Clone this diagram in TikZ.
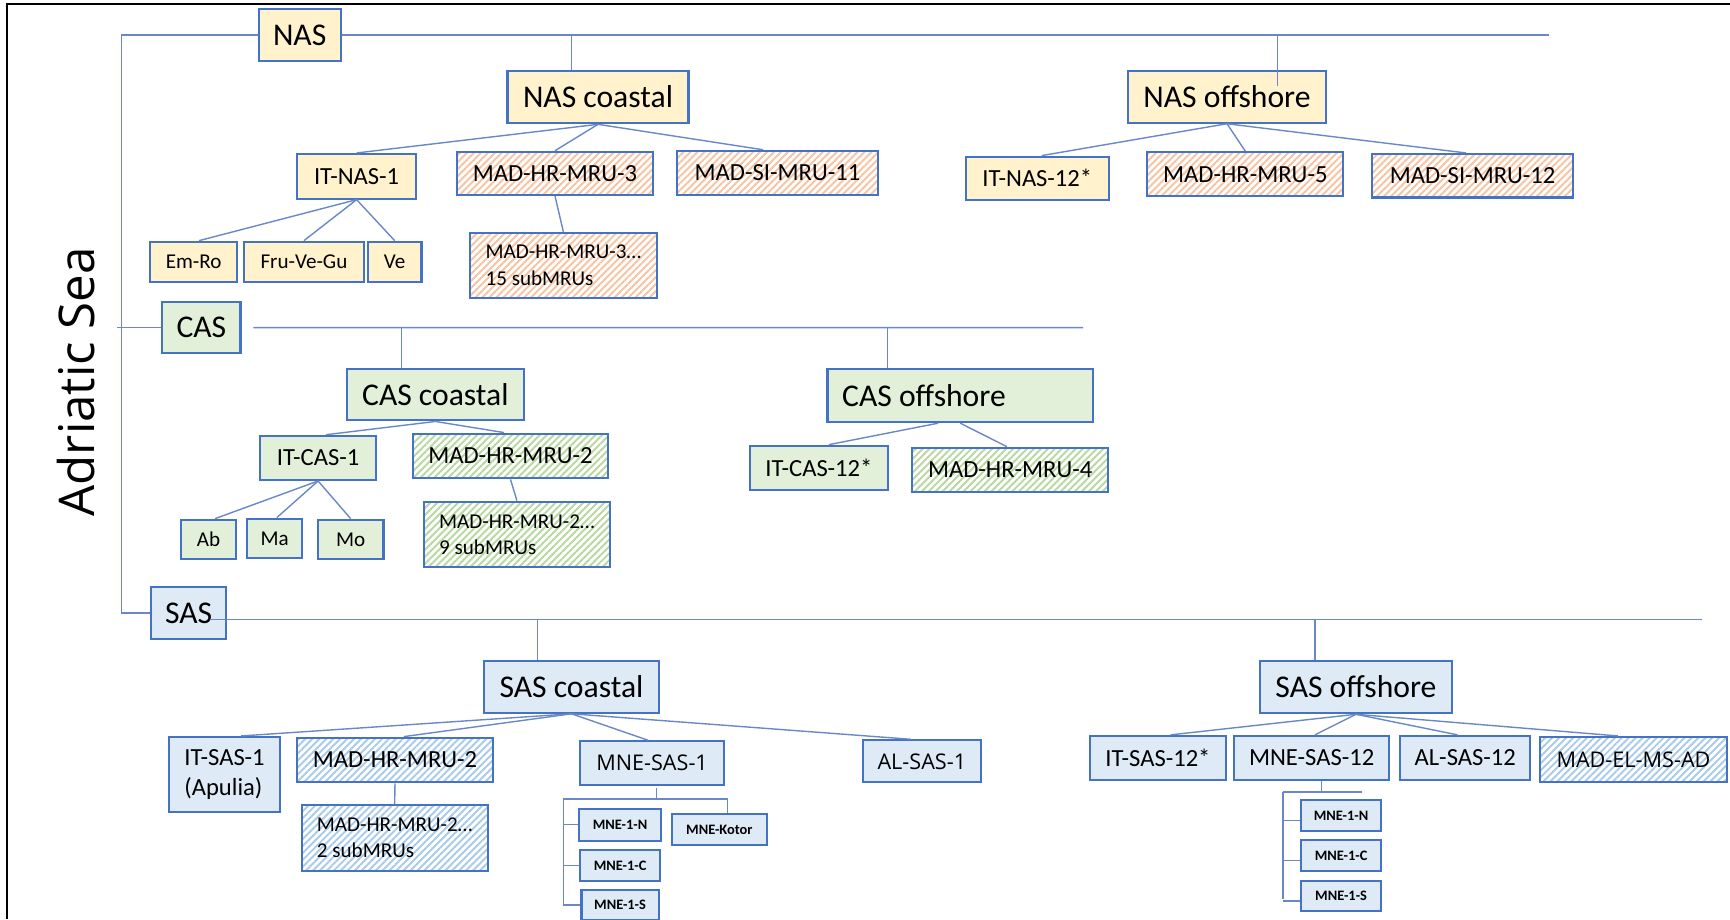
\documentclass[tikz,border=0pt]{standalone}
\usepackage{fontspec}
\setmainfont{Carlito}
\newfontfamily\widefont{Open Sans}
\usetikzlibrary{positioning,calc,patterns.meta}
\usepackage{xcolor}

\definecolor{nasfill}{HTML}{FFF2CC}
\definecolor{casfill}{HTML}{E2F0D9}
\definecolor{sasfill}{HTML}{DEEBF7}
\definecolor{boxline}{HTML}{4472C4}
\definecolor{linkline}{HTML}{6A88C9}
\definecolor{nasstripe}{HTML}{F7C3A0}
\definecolor{casstripe}{HTML}{B7D89E}
\definecolor{sasstripe}{HTML}{A9CBEA}

\newdimen\pxu
\pxu=0.011033cm

\begin{document}
\begin{tikzpicture}[x=0.011033cm, y=-0.011033cm]

	\tikzstyle{stdrect}=[draw=boxline, rectangle, line width=0.6pt, inner sep=0pt];
	\tikzstyle{link}=[draw=linkline, line width=0.4pt];
	\tikzstyle{bigtext}=[font=\fontsize{9}{11}\selectfont];
	\tikzstyle{midtext}=[font=\fontsize{7}{8.5}\selectfont];
	\tikzstyle{smalltext}=[font=\fontsize{6}{7.4}\selectfont];
	\tikzstyle{widetext}=[font=\widefont\fontsize{6.15}{7.4}\selectfont];
	\tikzstyle{tinytext}=[font=\bfseries\fontsize{4.1}{5}\selectfont];
	\tikzstyle{nasbox}=[stdrect, fill=nasfill];
	\tikzstyle{casbox}=[stdrect, fill=casfill];
	\tikzstyle{sasbox}=[stdrect, fill=sasfill];
	\tikzset{boxsize/.style 2 args={minimum width=#1*\pxu, minimum height=#2*\pxu},
		hatchbox/.style={stdrect, pattern={Lines[angle=45,distance=1.4pt,line width=0.55pt]}, pattern color=#1}};

	\useasboundingbox (0,0) rectangle (1568,833);
	\draw[black, line width=0.6pt] (6.7,833) -- (6.7,3.6) -- (1568,3.6);

	\node (sea) at (86,346) [rotate=90, anchor=base, font=\widefont\fontsize{14}{16}\selectfont]{Adriatic Sea};

    \begin{scope}[align=left]

    	% North Adriatic
    	\node (nas) at (271.6,31.75) [nasbox, bigtext, boxsize={74.2}{47}]{NAS};
    	\node (nascoast) at (542,87.9) [nasbox, bigtext, boxsize={164}{47.7}]{NAS coastal};
    	\node (nasoff) at (1112.1,87.6) [nasbox, bigtext, boxsize={179.4}{47.2}]{NAS offshore};
    	\node (itnas1) at (323.2,159.8) [nasbox, midtext, boxsize={108.4}{40.4}]{IT-NAS-1};
    	\node (mru3) at (503,157.1) [hatchbox=nasstripe, midtext, boxsize={178}{39.2}]{MAD-HR-MRU-3};
    	\node (simru11) at (704.7,156.7) [hatchbox=nasstripe, midtext, boxsize={182.6}{40}]{MAD-SI-MRU-11};
    	\node (mru3sub) at (510.6,240.4) [hatchbox=nasstripe, smalltext, boxsize={169.7}{58.8}]{MAD-HR-MRU-3…\\15 subMRUs};
    	\node (emro) at (175.5,237.2) [nasbox, smalltext, boxsize={78.5}{36.3}]{Em-Ro};
    	\node (fru) at (275.5,237.2) [nasbox, smalltext, boxsize={109}{36.3}]{Fru-Ve-Gu};
    	\node (ve) at (357.7,237.2) [nasbox, smalltext, boxsize={48.6}{36.3}]{Ve};
    	\node (itnas12) at (940.1,161.5) [nasbox, midtext, boxsize={129.6}{39}]{IT-NAS-12*};
    	\node (mru5) at (1128.7,158) [hatchbox=nasstripe, midtext, boxsize={177.6}{40}]{MAD-HR-MRU-5};
    	\node (simru12) at (1334.7,159.3) [hatchbox=nasstripe, midtext, boxsize={182.6}{39.4}]{MAD-SI-MRU-12};

    	% Central Adriatic
    	\node (cas) at (182.5,296.7) [casbox, bigtext, boxsize={71}{46.6}]{CAS};
    	\node (cascoast) at (394.6,357.8) [casbox, bigtext, boxsize={160}{46.5}]{CAS coastal};
    	\node (casoff) at (870.3,358.6) [casbox, bigtext, boxsize={240.6}{48}, text width=2.36cm, align=flush left]{CAS offshore};
    	\node (itcas1) at (288.3,415) [casbox, midtext, boxsize={104.6}{40}]{IT-CAS-1};
    	\node (casmru2) at (462.7,413.3) [hatchbox=casstripe, midtext, boxsize={176.5}{40.6}]{MAD-HR-MRU-2};
    	\node (casmru2sub) at (468.5,484.3) [hatchbox=casstripe, smalltext, boxsize={169}{59.3}]{MAD-HR-MRU-2…\\9 subMRUs};
    	\node (ab) at (189,489) [casbox, smalltext, boxsize={50}{36}]{Ab};
    	\node (ma) at (249,488) [casbox, smalltext, boxsize={50}{36}]{Ma};
    	\node (mo) at (317.8,489) [casbox, smalltext, boxsize={59.6}{36}]{Mo};
    	\node (itcas12) at (742.2,424) [casbox, midtext, boxsize={125.6}{40}]{IT-CAS-12*};
    	\node (mru4) at (915.6,425.9) [hatchbox=casstripe, midtext, boxsize={178}{40.2}]{MAD-HR-MRU-4};

    	% South Adriatic
    	\node (sas) at (171,555.5) [sasbox, bigtext, boxsize={68}{47}]{SAS};
    	\node (sascoast) at (518,622.5) [sasbox, bigtext, boxsize={158}{47}]{SAS coastal};
    	\node (sasoff) at (1229,622.7) [sasbox, bigtext, boxsize={174}{47.5}]{SAS offshore};
    	\node (itsas1) at (203.5,702) [sasbox, midtext, boxsize={101}{68}]{IT-SAS-1\\(Apulia)};
    	\node (sasmru2) at (358,688.8) [hatchbox=sasstripe, midtext, boxsize={178}{40.4}]{MAD-HR-MRU-2};
    	\node (sasmru2sub) at (357.7,759.7) [hatchbox=sasstripe, smalltext, boxsize={168.5}{59.5}]{MAD-HR-MRU-2…\\2 subMRUs};
    	\node (mnesas1) at (591,691.7) [sasbox, widetext, boxsize={130}{39.5}]{MNE-SAS-1};
    	\node (alsas1) at (835.5,690) [sasbox, widetext, boxsize={107}{38}]{AL-SAS-1};
    	\node (mne1n) at (562,747.5) [sasbox, tinytext, boxsize={74}{29}]{MNE-1-N};
    	\node (mne1c) [below = 0.072cm of mne1n, sasbox, tinytext, boxsize={72}{28}]{MNE-1-C};
    	\node (mne1s) [below = 0.066cm of mne1c, sasbox, tinytext, boxsize={70}{28}]{MNE-1-S};
    	\node (kotor) at (652,751.8) [sasbox, tinytext, boxsize={86}{27.6}]{MNE-Kotor};
    	\node (itsas12) at (1049.5,687) [sasbox, midtext, boxsize={123}{40}]{IT-SAS-12*};
    	\node (mnesas12) at (1188.8,687) [sasbox, midtext, boxsize={141}{40}]{MNE-SAS-12};
    	\node (alsas12) at (1328,687) [sasbox, midtext, boxsize={118}{40}]{AL-SAS-12};
    	\node (madel) at (1480.5,688.5) [hatchbox=sasstripe, widetext, boxsize={169}{41}]{MAD-EL-MS-AD};
    	\node (mne1n2) at (1215.5,739) [sasbox, tinytext, boxsize={73}{28}]{MNE-1-N};
    	\node (mne1c2) [below = 0.073cm of mne1n2, sasbox, tinytext, boxsize={73}{28}]{MNE-1-C};
    	\node (mne1s2) [below = 0.077cm of mne1c2, sasbox, tinytext, boxsize={73}{27.4}]{MNE-1-S};

    \end{scope}

    % spine and sub-basin lines
    \coordinate (spinetop) at (110.3,31.75);
    \coordinate (spinebot) at (110.3,555.5);
    \coordinate (casstub) at (106,296.7);
    \draw[link] (nas.west) -- (spinetop) -- (spinebot) -- (sas.west);
    \draw[link] (casstub) -- (cas.west);

    \coordinate (nasbusend) at (1404,31.75);
    \coordinate (nasdropA) at (518,31.75);
    \coordinate (nasdropB) at (1157.8,31.75);
    \draw[link] (nas.east) -- (nasbusend);
    \draw[link] (nasdropA) -- (nasdropA |- nascoast.north);
    \draw[link] (nasdropB) -- ($(nasdropB |- nasoff.north)+(0,15)$);

    \coordinate (casbusend) at (981.6,297);
    \coordinate (casdropA) at (364,297);
    \coordinate (casdropB) at (804.4,297);
    \draw[link] ($(cas.east)+(10.6,0.3)$) -- (casbusend);
    \draw[link] (casdropA) -- (casdropA |- cascoast.north);
    \draw[link] (casdropB) -- (casdropB |- casoff.north);

    \coordinate (sasbusstart) at (190,561.5);
    \coordinate (sasbusend) at (1543,561.5);
    \coordinate (sasdropA) at (487,561.5);
    \coordinate (sasdropB) at (1192,561.5);
    \draw[link] (sasbusstart) -- (sasbusend);
    \draw[link] (sasdropA) -- (sasdropA |- sascoast.north);
    \draw[link] (sasdropB) -- (sasdropB |- sasoff.north);

    % NAS links
    \draw[link] (nascoast.south) -- (itnas1.north);
    \draw[link] (nascoast.south) -- (mru3.north);
    \draw[link] (nascoast.south) -- ($(simru11.north)+(-13,0)$);
    \draw[link] (nasoff.south) -- ($(itnas12.north)+(4,0)$);
    \draw[link] (nasoff.south) -- (mru5.north);
    \draw[link] (nasoff.south) -- ($(simru12.north)+(-6,0)$);
    \draw[link] (itnas1.south) -- ($(emro.north)+(5,0)$);
    \draw[link] (itnas1.south) -- (fru.north);
    \draw[link] (itnas1.south) -- (ve.north);
    \draw[link] (mru3.south) -- (mru3sub.north);

    % CAS links
    \draw[link] (cascoast.south) -- ($(itcas1.north)+(7,0)$);
    \draw[link] (cascoast.south) -- ($(casmru2.north)+(-6,0)$);
    \draw[link] (itcas1.south) -- ($(ab.north)+(6,0)$);
    \draw[link] (itcas1.south) -- ($(ma.north)+(2,0)$);
    \draw[link] (itcas1.south) -- (mo.north);
    \draw[link] (casmru2.south) -- (casmru2sub.north);
    \draw[link] ($(casoff.south)+(-20,0)$) -- ($(itcas12.north)+(9,0)$);
    \draw[link] (casoff.south) -- ($(mru4.north)+(-3,0)$);

    % SAS links
    \draw[link] (sascoast.south) -- ($(itsas1.north)+(15,0)$);
    \draw[link] (sascoast.south) -- ($(sasmru2.north)+(8,0)$);
    \draw[link] (sascoast.south) -- ($(mnesas1.north)+(-3.5,0)$);
    \draw[link] (sascoast.south) -- ($(alsas1.north)+(-10,0)$);
    \draw[link] (sasmru2.south) -- (sasmru2sub.north);
    \draw[link] (sasoff.south) -- ($(itsas12.north)+(11.5,0)$);
    \draw[link] (sasoff.south) -- ($(mnesas12.north)+(3,0)$);
    \draw[link] (sasoff.south) -- ($(alsas12.north)+(-7,0)$);
    \draw[link] (sasoff.south) -- ($(madel.north)+(-14,0)$);

    % MNE-SAS-1 bracket
    \coordinate (mnejoin) at (595,724);
    \coordinate (mnecorner) at (510.5,724);
    \coordinate (mneend) at (510.5,819);
    \draw[link] ($(mnesas1.south)+(4,2)$) -- (mnejoin);
    \draw[link] (mnecorner) -| ($(kotor.north)+(7.5,0)$);
    \draw[link] (mnecorner) -- (mneend);
    \draw[link] (mne1n.west -| mnecorner) -- (mne1n.west);
    \draw[link] (mne1c.west -| mnecorner) -- (mne1c.west);
    \draw[link] (mne1s.west -| mnecorner) -- (mne1s.west);

    % MNE-SAS-12 bracket
    \coordinate (mnetwojoin) at (1197.8,718);
    \coordinate (mnetwocorner) at (1162.8,718);
    \coordinate (mnetworight) at (1234.5,718);
    \coordinate (mnetwoend) at (1162.8,815);
    \draw[link] ($(mnesas12.south)+(9,0)$) -- (mnetwojoin);
    \draw[link] (mnetwocorner) -- (mnetworight);
    \draw[link] (mnetwocorner) -- (mnetwoend);
    \draw[link] ($(mne1n2.west -| mnetwocorner)+(0,4.5)$) -- ($(mne1n2.west)+(0,4.5)$);
    \draw[link] ($(mne1c2.west -| mnetwocorner)+(0,4.5)$) -- ($(mne1c2.west)+(0,4.5)$);
    \draw[link] ($(mne1s2.west -| mnetwocorner)+(0,4.5)$) -- ($(mne1s2.west)+(0,4.5)$);

\end{tikzpicture}
\end{document}
